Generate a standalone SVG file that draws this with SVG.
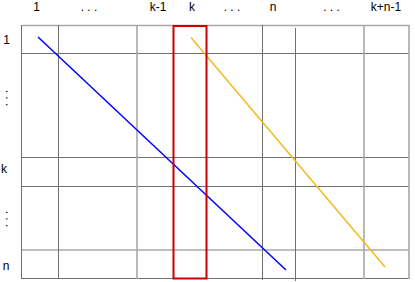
<svg xmlns="http://www.w3.org/2000/svg" width="415" height="282" viewBox="0 0 415 282">
<style>
text{font-family:"Liberation Sans",Arial,sans-serif;font-size:12px;fill:#000;text-anchor:middle}
.g{stroke:#707070;stroke-width:1;fill:none}
.gl{stroke:#a8a8a8;stroke-width:1.6;fill:none}
</style>
<rect width="415" height="282" fill="#fff"/>
<g id="grid">
<line class="gl" x1="22" y1="25.5" x2="409" y2="25.5"/>
<line class="g" x1="22" y1="53.5" x2="409" y2="53.5"/>
<line class="g" x1="22" y1="157.5" x2="409" y2="157.5"/>
<line class="g" x1="22" y1="186.5" x2="409" y2="186.5"/>
<line class="gl" x1="22" y1="250" x2="409" y2="250"/>
<line class="g" x1="22" y1="278.5" x2="409" y2="278.5"/>
<line class="g" x1="21.5" y1="25" x2="21.5" y2="279"/>
<line class="g" x1="58.5" y1="25" x2="58.5" y2="279"/>
<line class="gl" x1="137" y1="25" x2="137" y2="279"/>
<line class="g" x1="262.5" y1="25" x2="262.5" y2="280"/>
<line class="g" x1="295.5" y1="28" x2="295.5" y2="281"/>
<line class="gl" x1="364" y1="25" x2="364" y2="279"/>
<line class="gl" x1="409" y1="25" x2="409" y2="279"/>
</g>
<g id="connectors">
<line x1="38" y1="37" x2="286" y2="270" stroke="#0000ff" stroke-width="1.5"/>
<line x1="191" y1="37.5" x2="385" y2="267" stroke="#f5b820" stroke-width="1.5"/>
</g>
<g id="column-k">
<rect x="173.5" y="26" width="33" height="252.5" fill="none" stroke="#cc0000" stroke-width="2"/>
</g>
<g id="labels-top">
<text x="36.5" y="11">1</text>
<text x="89" y="11">. . .</text>
<text x="158" y="11">k-1</text>
<text x="192" y="11">k</text>
<text x="232" y="11">. . .</text>
<text x="273" y="11">n</text>
<text x="331.5" y="11">. . .</text>
<text x="386" y="11">k+n-1</text>
</g>
<g id="labels-left">
<text x="6.5" y="44">1</text>
<text transform="translate(6,98) rotate(90)" x="0" y="0">. . .</text>
<text x="4" y="173">k</text>
<text transform="translate(6,219) rotate(90)" x="0" y="0">. . .</text>
<text x="6" y="270">n</text>
</g>
</svg>
